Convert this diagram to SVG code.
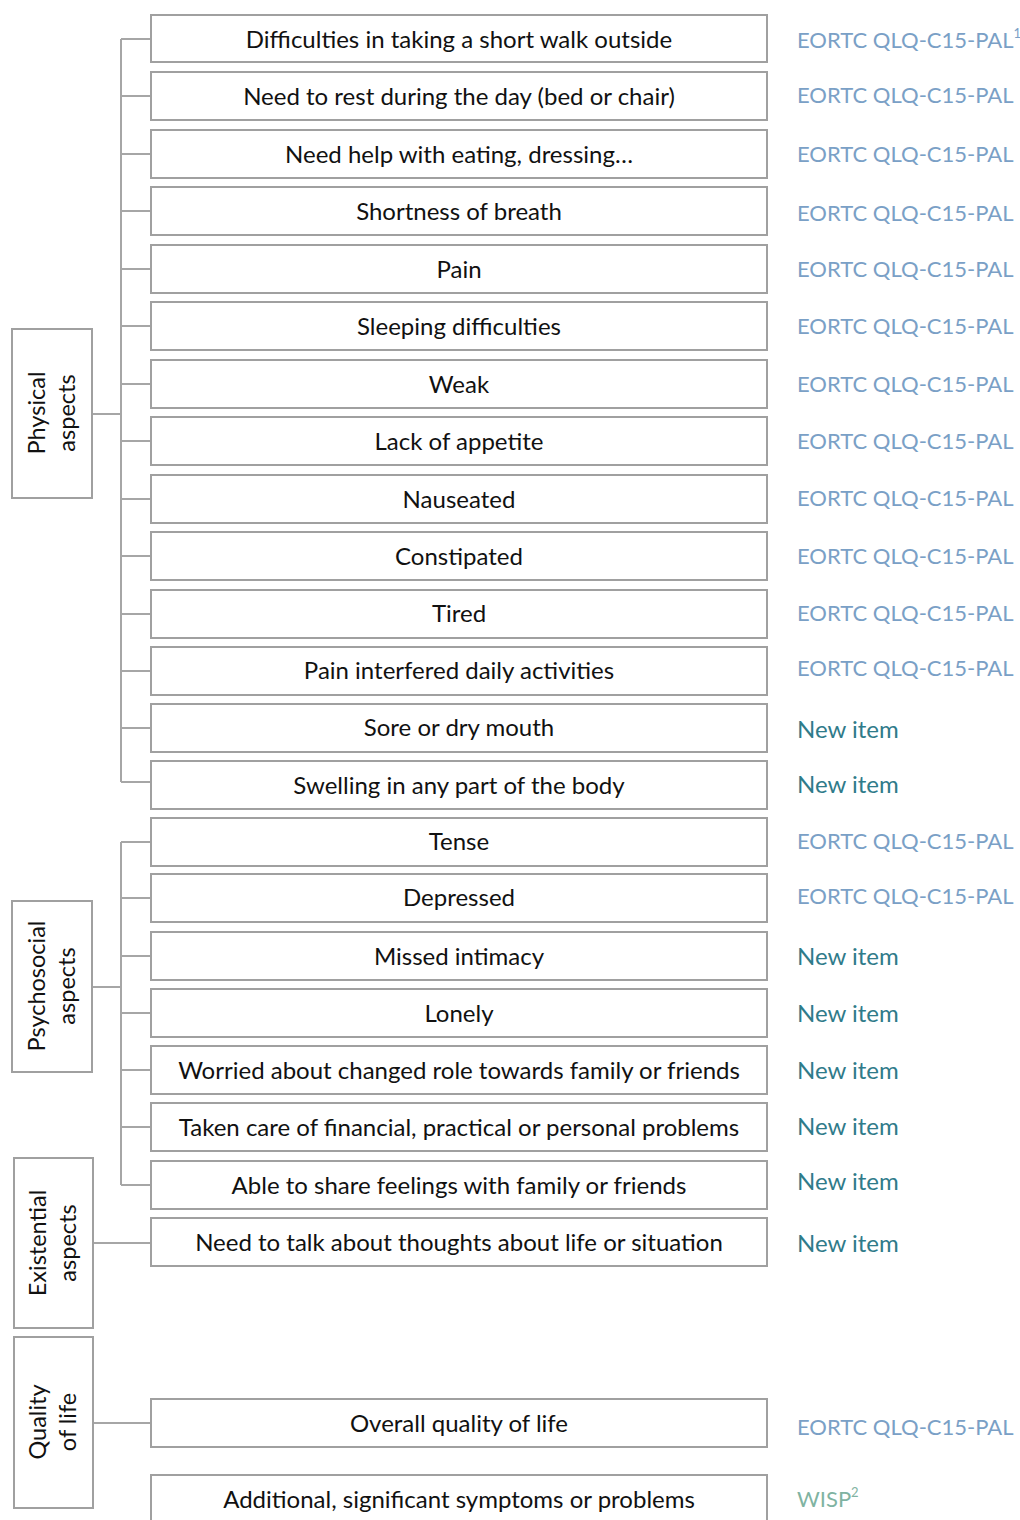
<svg xmlns="http://www.w3.org/2000/svg" width="1020" height="1520" viewBox="0 0 1020 1520">
<style>
.box{fill:#fff;stroke:#a0a0a0;stroke-width:2}
.t{font-family:Lato,"Liberation Sans",sans-serif;font-size:24px;fill:#111;text-anchor:middle}
.lt{font-family:Lato,"Liberation Sans",sans-serif;font-size:23.5px;fill:#111;text-anchor:middle}
.e{font-family:Lato,"Liberation Sans",sans-serif;font-size:22px;fill:#7aa0c6}
.n{font-family:Lato,"Liberation Sans",sans-serif;font-size:24px;fill:#2f7b8a}
.w{font-family:Lato,"Liberation Sans",sans-serif;font-size:22px;fill:#7fb3a2}
.c{fill:none;stroke:#a6a6a6;stroke-width:2}
</style>
<g id="connectors">
<path class="c" d="M121 39V782M92 414H121M121 39H151M121 96H151M121 154H151M121 211H151M121 269H151M121 326H151M121 384H151M121 441H151M121 499H151M121 556H151M121 614H151M121 671H151M121 728H151M121 782H151"/>
<path class="c" d="M121 842V1185M92 987H121M121 842H151M121 898H151M121 956H151M121 1013H151M121 1070H151M121 1127H151M121 1185H151"/>
<path class="c" d="M93 1243H151M93 1423H151"/>
</g>
<g id="cat-physical"><rect class="box" x="12" y="329" width="80" height="169"/><text class="lt" transform="translate(45 413) rotate(-90)">Physical</text><text class="lt" transform="translate(75 413) rotate(-90)">aspects</text></g>
<g id="cat-psychosocial"><rect class="box" x="12" y="901" width="80" height="171"/><text class="lt" transform="translate(45 986) rotate(-90)">Psychosocial</text><text class="lt" transform="translate(75 986) rotate(-90)">aspects</text></g>
<g id="cat-existential"><rect class="box" x="14" y="1158" width="79" height="170"/><text class="lt" transform="translate(46 1243) rotate(-90)">Existential</text><text class="lt" transform="translate(76 1243) rotate(-90)">aspects</text></g>
<g id="cat-qol"><rect class="box" x="14" y="1337" width="79" height="171"/><text class="lt" transform="translate(46 1422) rotate(-90)">Quality</text><text class="lt" transform="translate(76 1422) rotate(-90)">of life</text></g>

<g id="i1"><rect class="box" x="151" y="15" width="616" height="47"/><text class="t" x="459" y="48">Difficulties in taking a short walk outside</text><text class="e" x="797" y="48">EORTC QLQ-C15-PAL<tspan font-size="13" dy="-10">1</tspan></text></g>
<g id="i2"><rect class="box" x="151" y="72" width="616" height="48"/><text class="t" x="459" y="105">Need to rest during the day (bed or chair)</text><text class="e" x="797" y="103">EORTC QLQ-C15-PAL</text></g>
<g id="i3"><rect class="box" x="151" y="130" width="616" height="48"/><text class="t" x="459" y="163">Need help with eating, dressing…</text><text class="e" x="797" y="162">EORTC QLQ-C15-PAL</text></g>
<g id="i4"><rect class="box" x="151" y="187" width="616" height="48"/><text class="t" x="459" y="220">Shortness of breath</text><text class="e" x="797" y="221">EORTC QLQ-C15-PAL</text></g>
<g id="i5"><rect class="box" x="151" y="245" width="616" height="48"/><text class="t" x="459" y="278">Pain</text><text class="e" x="797" y="277">EORTC QLQ-C15-PAL</text></g>
<g id="i6"><rect class="box" x="151" y="302" width="616" height="48"/><text class="t" x="459" y="335">Sleeping difficulties</text><text class="e" x="797" y="334">EORTC QLQ-C15-PAL</text></g>
<g id="i7"><rect class="box" x="151" y="360" width="616" height="48"/><text class="t" x="459" y="393">Weak</text><text class="e" x="797" y="392">EORTC QLQ-C15-PAL</text></g>
<g id="i8"><rect class="box" x="151" y="417" width="616" height="48"/><text class="t" x="459" y="450">Lack of appetite</text><text class="e" x="797" y="449">EORTC QLQ-C15-PAL</text></g>
<g id="i9"><rect class="box" x="151" y="475" width="616" height="48"/><text class="t" x="459" y="508">Nauseated</text><text class="e" x="797" y="506">EORTC QLQ-C15-PAL</text></g>
<g id="i10"><rect class="box" x="151" y="532" width="616" height="48"/><text class="t" x="459" y="565">Constipated</text><text class="e" x="797" y="564">EORTC QLQ-C15-PAL</text></g>
<g id="i11"><rect class="box" x="151" y="590" width="616" height="48"/><text class="t" x="459" y="622">Tired</text><text class="e" x="797" y="621">EORTC QLQ-C15-PAL</text></g>
<g id="i12"><rect class="box" x="151" y="647" width="616" height="48"/><text class="t" x="459" y="679">Pain interfered daily activities</text><text class="e" x="797" y="676">EORTC QLQ-C15-PAL</text></g>
<g id="i13"><rect class="box" x="151" y="704" width="616" height="48"/><text class="t" x="459" y="736">Sore or dry mouth</text><text class="n" x="797" y="738">New item</text></g>
<g id="i14"><rect class="box" x="151" y="761" width="616" height="48"/><text class="t" x="459" y="794">Swelling in any part of the body</text><text class="n" x="797" y="793">New item</text></g>
<g id="i15"><rect class="box" x="151" y="818" width="616" height="48"/><text class="t" x="459" y="850">Tense</text><text class="e" x="797" y="849">EORTC QLQ-C15-PAL</text></g>
<g id="i16"><rect class="box" x="151" y="874" width="616" height="48"/><text class="t" x="459" y="906">Depressed</text><text class="e" x="797" y="904">EORTC QLQ-C15-PAL</text></g>
<g id="i17"><rect class="box" x="151" y="932" width="616" height="48"/><text class="t" x="459" y="965">Missed intimacy</text><text class="n" x="797" y="965">New item</text></g>
<g id="i18"><rect class="box" x="151" y="989" width="616" height="48"/><text class="t" x="459" y="1022">Lonely</text><text class="n" x="797" y="1022">New item</text></g>
<g id="i19"><rect class="box" x="151" y="1046" width="616" height="48"/><text class="t" x="459" y="1079">Worried about changed role towards family or friends</text><text class="n" x="797" y="1079">New item</text></g>
<g id="i20"><rect class="box" x="151" y="1103" width="616" height="48"/><text class="t" x="459" y="1136">Taken care of financial, practical or personal problems</text><text class="n" x="797" y="1135">New item</text></g>
<g id="i21"><rect class="box" x="151" y="1161" width="616" height="48"/><text class="t" x="459" y="1194">Able to share feelings with family or friends</text><text class="n" x="797" y="1190">New item</text></g>
<g id="i22"><rect class="box" x="151" y="1218" width="616" height="48"/><text class="t" x="459" y="1251">Need to talk about thoughts about life or situation</text><text class="n" x="797" y="1252">New item</text></g>
<g id="i23"><rect class="box" x="151" y="1399" width="616" height="48"/><text class="t" x="459" y="1432">Overall quality of life</text><text class="e" x="797" y="1435">EORTC QLQ-C15-PAL</text></g>
<g id="i24"><rect class="box" x="151" y="1475" width="616" height="60"/><text class="t" x="459" y="1508">Additional, significant symptoms or problems</text><text class="w" x="797" y="1507">WISP<tspan font-size="13" dy="-10">2</tspan></text></g>
</svg>
